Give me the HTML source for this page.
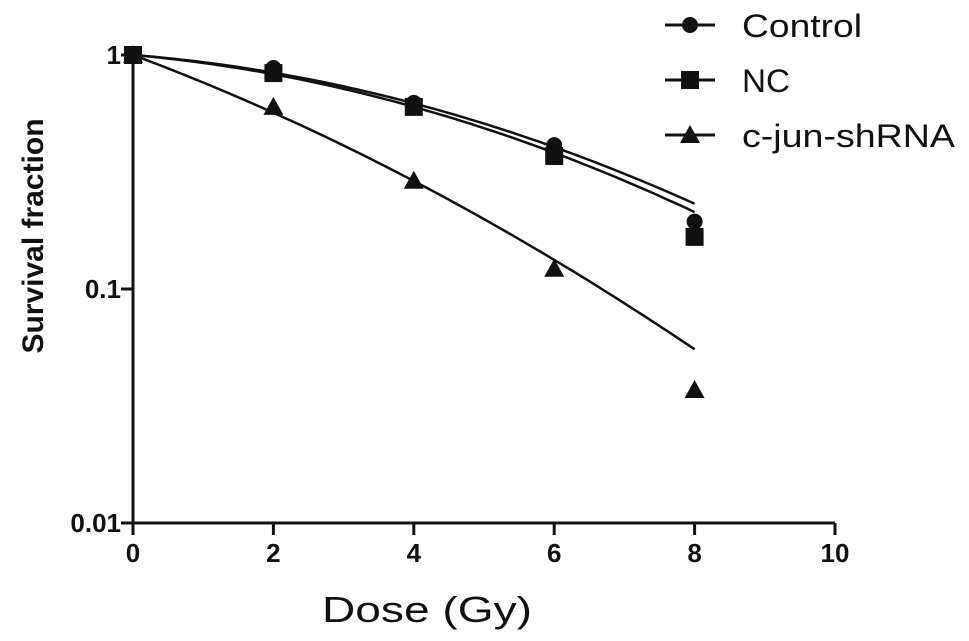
<!DOCTYPE html>
<html><head><meta charset="utf-8"><style>
html,body{margin:0;padding:0;background:#fff;}
svg{display:block;font-family:"Liberation Sans",Arial,sans-serif;}
</style></head><body>
<svg id="chart" width="969" height="641" viewBox="0 0 969 641">
<g id="axes"></g>
<g id="fits"></g>
<g id="points"></g>
<g id="legend"></g>
<text x="322" y="622" font-size="36" textLength="210" lengthAdjust="spacingAndGlyphs" fill="#111">Dose (Gy)</text>
<text transform="translate(43,236) rotate(-90)" font-size="30" font-weight="bold" text-anchor="middle" fill="#111">Survival fraction</text>
</svg>
<script>
const doses = [0, 2, 4, 6, 8];
const controlValues = [1, 0.88, 0.624, 0.412, 0.194];
const ncValues = [1, 0.837, 0.60, 0.37, 0.167];
const cjunValues = [1, 0.60, 0.29, 0.122, 0.037];
const seriesNames = ["Control", "NC", "c-jun-shRNA"];
const fitAlpha = [0.055, 0.062, 0.258];
const fitBeta = [0.016, 0.0164, 0.013];
const xTicks = [0, 2, 4, 6, 8, 10];
const yTicks = [1, 0.1, 0.01];
const yTickLabels = ["1", "0.1", "0.01"];
const legendWidths = [120, 48, 213];

const NS = "http://www.w3.org/2000/svg";
const X0 = 133, X1 = 835, Y0 = 523, Ytop = 55;
function xs(d){ return X0 + (d - 0) / 10 * (X1 - X0); }
function ys(v){ return Ytop + (0 - Math.log10(v)) / 2 * (Y0 - Ytop); }
function mk(tag, attrs, parent){ const e = document.createElementNS(NS, tag); for (const k in attrs) e.setAttribute(k, attrs[k]); parent.appendChild(e); return e; }

const axes = document.getElementById('axes');
let el = mk('line', {x1:X0, y1:Y0, x2:X1, y2:Y0, stroke:'#111', 'stroke-width':3}, axes);


el = mk('line', {x1:X0, y1:Ytop-6, x2:X0, y2:Y0+1.5, stroke:'#111', 'stroke-width':3}, axes);


xTicks.forEach(t => {
  const tk = mk('line', {x1:xs(t), y1:Y0, x2:xs(t), y2:Y0+12, stroke:'#111', 'stroke-width':3}, axes);
  
  
  const lb = mk('text', {x:xs(t), y:Y0+39, 'font-size':26, 'font-weight':'bold', 'text-anchor':'middle', fill:'#111'}, axes);
  lb.textContent = t;
  
  
});
yTicks.forEach((t, i) => {
  const tk = mk('line', {x1:X0-12, y1:ys(t), x2:X0, y2:ys(t), stroke:'#111', 'stroke-width':3}, axes);
  
  
  const lb = mk('text', {x:X0-12, y:ys(t)+9, 'font-size':26, 'font-weight':'bold', 'text-anchor':'end', fill:'#111'}, axes);
  lb.textContent = yTickLabels[i];
  
  
});

const fits = document.getElementById('fits');
const allValues = [controlValues, ncValues, cjunValues];
allValues.forEach((vals, s) => {
  let d = '';
  for (let k = 0; k <= 80; k++) {
    const D = k / 10;
    const S = Math.exp(-fitAlpha[s] * D - fitBeta[s] * D * D);
    d += (k ? 'L' : 'M') + xs(D).toFixed(1) + ',' + ys(S).toFixed(1);
  }
  const p = mk('path', {d:d, fill:'none', stroke:'#111', 'stroke-width':2.5}, fits);
  
  
});

function marker(parent, shape, cx, cy){
  if (shape === 0) return mk('circle', {cx:cx, cy:cy, r:8, fill:'#111'}, parent);
  if (shape === 1) return mk('rect', {x:cx-9, y:cy-9, width:18, height:18, fill:'#111'}, parent);
  return mk('polygon', {points:`${cx},${cy-10} ${cx+10},${cy+8} ${cx-10},${cy+8}`, fill:'#111'}, parent);
}
const pts = document.getElementById('points');
allValues.forEach((vals, s) => {
  vals.forEach((v, i) => {
    const m = marker(pts, s, xs(doses[i]), ys(v));
    
    
  });
});

const legend = document.getElementById('legend');
const legY = [25, 80, 135];
seriesNames.forEach((n, s) => {
  const g = mk('g', {}, legend);
  
  
  mk('line', {x1:665, y1:legY[s], x2:715, y2:legY[s], stroke:'#111', 'stroke-width':3}, g);
  marker(g, s, 690, legY[s]);
  const t = mk('text', {x:742, y:legY[s]+12, 'font-size':32, textLength:legendWidths[s], lengthAdjust:'spacingAndGlyphs', fill:'#111'}, g);
  t.textContent = n;
});
</script>
</body></html>
